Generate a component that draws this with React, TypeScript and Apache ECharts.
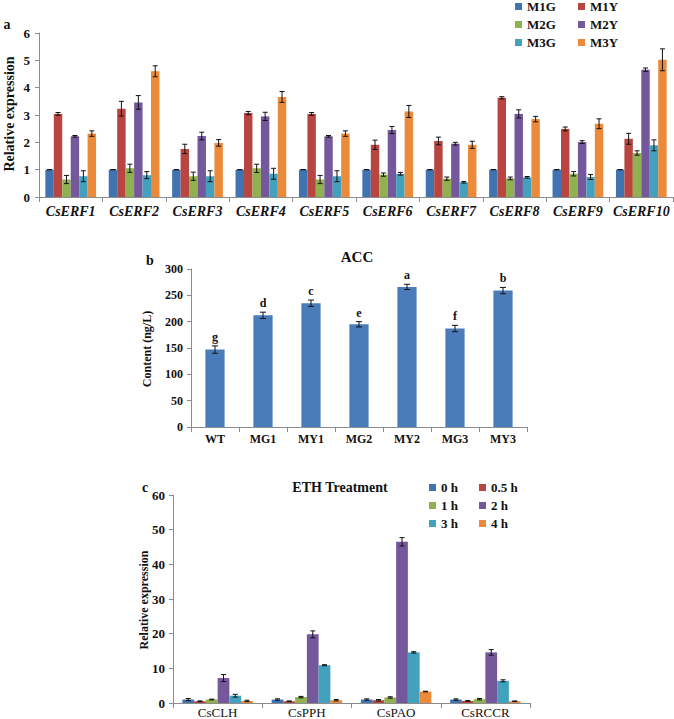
import React, { useEffect, useRef } from "react";
import * as echarts from "echarts";

// ---------- Panel a data ----------
const erfGenes = ["CsERF1", "CsERF2", "CsERF3", "CsERF4", "CsERF5", "CsERF6", "CsERF7", "CsERF8", "CsERF9", "CsERF10"];
const erfNames = ["M1G", "M1Y", "M2G", "M2Y", "M3G", "M3Y"];
const m1g = [1, 1, 1, 1, 1, 1, 1, 1, 1, 1];
const m1gErr = [0, 0, 0, 0, 0, 0, 0, 0, 0, 0];
const m1y = [3.04, 3.23, 1.76, 3.07, 3.04, 1.91, 2.05, 3.63, 2.49, 2.13];
const m1yErr = [0.05, 0.27, 0.17, 0.06, 0.05, 0.17, 0.14, 0.04, 0.07, 0.2];
const m2g = [0.64, 1.05, 0.76, 1.05, 0.64, 0.82, 0.67, 0.68, 0.85, 1.61];
const m2gErr = [0.15, 0.15, 0.15, 0.15, 0.15, 0.06, 0.06, 0.05, 0.08, 0.08];
const m2y = [2.22, 3.46, 2.23, 2.95, 2.22, 2.45, 1.95, 3.04, 2.01, 4.66];
const m2yErr = [0.03, 0.25, 0.14, 0.15, 0.03, 0.13, 0.05, 0.15, 0.05, 0.06];
const m3g = [0.76, 0.8, 0.76, 0.85, 0.76, 0.85, 0.54, 0.72, 0.73, 1.89];
const m3gErr = [0.2, 0.13, 0.2, 0.2, 0.2, 0.05, 0.03, 0.03, 0.09, 0.2];
const m3y = [2.32, 4.6, 1.98, 3.66, 2.32, 3.13, 1.91, 2.85, 2.68, 5.02];
const m3yErr = [0.1, 0.2, 0.12, 0.2, 0.1, 0.22, 0.13, 0.1, 0.18, 0.4];

// ---------- Panel b data ----------
const accSamples = ["WT", "MG1", "MY1", "MG2", "MY2", "MG3", "MY3"];
const accValues = [147, 212, 235, 195, 266, 187, 259];
const accErr = [7, 6, 6, 5, 5, 6, 6];
const accLetters = ["g", "d", "c", "e", "a", "f", "b"];

// ---------- Panel c data ----------
const ethGenes = ["CsCLH", "CsPPH", "CsPAO", "CsRCCR"];
const ethTimes = ["0 h", "0.5 h", "1 h", "2 h", "3 h", "4 h"];
const h0 = [1.0, 1.0, 1.0, 1.0];
const h0Err = [0.3, 0.2, 0.2, 0.2];
const h05 = [0.5, 0.5, 0.8, 0.6];
const h05Err = [0.1, 0.1, 0.2, 0.1];
const h1 = [1.0, 1.7, 1.6, 1.1];
const h1Err = [0.1, 0.2, 0.2, 0.2];
const h2 = [7.2, 19.8, 46.5, 14.6];
const h2Err = [1.0, 1.0, 1.2, 0.8];
const h3 = [2.1, 10.9, 14.6, 6.4];
const h3Err = [0.4, 0.15, 0.2, 0.3];
const h4 = [0.6, 0.8, 3.3, 0.5];
const h4Err = [0.2, 0.2, 0.1, 0.1];

const COLORS = ["#4073B2", "#B8453F", "#8FB14F", "#75589C", "#42A2BE", "#EA8A3A"];
const FONT = "'Liberation Serif', 'Times New Roman', serif";
const AXIS_COLOR = "#8c8c8c";

function errRender(nSeries: number, idx: number, gapFrac: number, capHalf: number, letters?: string[]) {
  return (params: any, api: any) => {
    const cat = api.value(0);
    const val = api.value(1);
    const err = api.value(2);
    const band = api.size([1, 0])[0];
    const total = band * (1 - gapFrac);
    const bw = total / nSeries;
    const cx = api.coord([cat, 0])[0] - total / 2 + (idx + 0.5) * bw;
    const top = api.coord([cat, val + err])[1];
    const bot = api.coord([cat, val - err])[1];
    const st = { stroke: "#111", lineWidth: 1 };
    const children: any[] = [
      { type: "line", shape: { x1: cx, y1: top, x2: cx, y2: bot }, style: st },
      { type: "line", shape: { x1: cx - capHalf, y1: top, x2: cx + capHalf, y2: top }, style: st },
      { type: "line", shape: { x1: cx - capHalf, y1: bot, x2: cx + capHalf, y2: bot }, style: st },
    ];
    if (letters) {
      children.push({
        type: "text",
        x: cx,
        y: top - 3,
        style: {
          text: letters[params.dataIndex],
          font: `bold 12px ${FONT}`,
          fill: "#111",
          align: "center",
          verticalAlign: "bottom",
        },
      });
    }
    return { type: "group", children };
  };
}

function catAxis(gridIndex: number, data: string[], label: any) {
  return {
    type: "category",
    gridIndex,
    data,
    axisLine: { lineStyle: { color: AXIS_COLOR, width: 1 } },
    axisTick: { show: true, length: 5, alignWithLabel: false, interval: 0, lineStyle: { color: AXIS_COLOR } },
    axisLabel: { color: "#111", fontFamily: FONT, interval: 0, ...label },
    splitLine: { show: false },
  };
}

function valAxis(gridIndex: number, max: number, interval: number, margin: number, fontSize: number) {
  return {
    type: "value",
    gridIndex,
    min: 0,
    max,
    interval,
    axisLine: { show: true, lineStyle: { color: AXIS_COLOR, width: 1 } },
    axisTick: { show: true, length: 4, lineStyle: { color: AXIS_COLOR } },
    axisLabel: { color: "#111", fontFamily: FONT, fontWeight: "bold", fontSize, margin },
    splitLine: { show: false },
  };
}

export default function App() {
  const ref = useRef<HTMLDivElement>(null);
  useEffect(() => {
    document.body.style.margin = "0";
    const chart = echarts.init(ref.current!, null, { renderer: "svg" });

    const aVals = [m1g, m1y, m2g, m2y, m3g, m3y];
    const aErrs = [m1gErr, m1yErr, m2gErr, m2yErr, m3gErr, m3yErr];
    const cVals = [h0, h05, h1, h2, h3, h4];
    const cErrs = [h0Err, h05Err, h1Err, h2Err, h3Err, h4Err];
    const aGap = 0.2;
    const cGap = 0.21;
    const bGap = 0.6;

    const series: any[] = [];
    erfNames.forEach((name, i) => {
      series.push({
        type: "bar",
        name,
        xAxisIndex: 0,
        yAxisIndex: 0,
        data: aVals[i],
        barGap: "0%",
        barCategoryGap: `${aGap * 100}%`,
        itemStyle: { color: COLORS[i] },
      });
    });
    erfNames.forEach((name, i) => {
      series.push({
        type: "custom",
        name: name + "-err",
        xAxisIndex: 0,
        yAxisIndex: 0,
        z: 5,
        renderItem: errRender(6, i, aGap, 2.5),
        data: aVals[i].map((v, k) => [k, v, aErrs[i][k]]),
      });
    });
    series.push({
      type: "bar",
      name: "ACC",
      xAxisIndex: 1,
      yAxisIndex: 1,
      data: accValues,
      barCategoryGap: `${bGap * 100}%`,
      itemStyle: { color: "#4A7CBA" },
    });
    series.push({
      type: "custom",
      name: "ACC-err",
      xAxisIndex: 1,
      yAxisIndex: 1,
      z: 5,
      renderItem: errRender(1, 0, bGap, 3, accLetters),
      data: accValues.map((v, k) => [k, v, accErr[k]]),
    });
    ethTimes.forEach((name, i) => {
      series.push({
        type: "bar",
        name,
        xAxisIndex: 2,
        yAxisIndex: 2,
        data: cVals[i],
        barGap: "0%",
        barCategoryGap: `${cGap * 100}%`,
        itemStyle: { color: COLORS[i] },
      });
    });
    ethTimes.forEach((name, i) => {
      series.push({
        type: "custom",
        name: name + "-err",
        xAxisIndex: 2,
        yAxisIndex: 2,
        z: 5,
        renderItem: errRender(6, i, cGap, 2.5),
        data: cVals[i].map((v, k) => [k, v, cErrs[i][k]]),
      });
    });

    const legendBase = {
      orient: "vertical",
      icon: "rect",
      itemWidth: 7,
      itemHeight: 7,
      itemGap: 5,
      padding: 0,
      selectedMode: false,
      textStyle: { fontFamily: FONT, fontWeight: "bold", fontSize: 13, color: "#111" },
    };

    const text = (t: string, x: number, y: number, size: number, rotate = false) => ({
      type: "text",
      x,
      y,
      rotation: rotate ? Math.PI / 2 : 0,
      style: {
        text: t,
        font: `bold ${size}px ${FONT}`,
        fill: "#111",
        align: "center",
        verticalAlign: "middle",
      },
    });

    chart.setOption({
      animation: false,
      backgroundColor: "#ffffff",
      grid: [
        { left: 39, top: 33, width: 634, height: 164 },
        { left: 191, top: 269, width: 336, height: 158 },
        { left: 173, top: 495, width: 357, height: 209 },
      ],
      xAxis: [
        catAxis(0, erfGenes, { fontSize: 14, fontWeight: "bold", fontStyle: "italic", margin: 7 }),
        catAxis(1, accSamples, { fontSize: 12, fontWeight: "bold", margin: 6 }),
        catAxis(2, ethGenes, { fontSize: 13, fontWeight: "normal", margin: 3 }),
      ],
      yAxis: [valAxis(0, 6, 1, 9, 13), valAxis(1, 300, 50, 8, 12), valAxis(2, 60, 10, 8, 13)],
      legend: [
        { ...legendBase, data: ["M1G", "M2G", "M3G"], left: 515, top: 0 },
        { ...legendBase, data: ["M1Y", "M2Y", "M3Y"], left: 578, top: 0 },
        { ...legendBase, data: ["0 h", "1 h", "3 h"], left: 429, top: 481 },
        { ...legendBase, data: ["0.5 h", "2 h", "4 h"], left: 479, top: 481 },
      ],
      graphic: [
        text("a", 7, 24, 14),
        text("Relative expression", 9, 114, 14, true),
        text("b", 150, 260, 14),
        text("ACC", 357, 257, 15),
        text("Content (ng/L)", 147, 349, 12, true),
        text("c", 145, 487, 14),
        text("ETH Treatment", 340, 487, 14),
        text("Relative expression", 144, 600, 12, true),
      ],
      series,
    });
    return () => chart.dispose();
  }, []);
  return <div ref={ref} style={{ width: 674, height: 719 }} />;
}
